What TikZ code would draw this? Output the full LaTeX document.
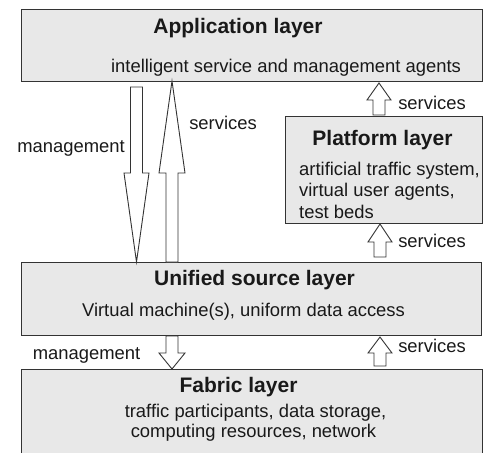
\documentclass[tikz,border=0pt]{standalone}
\usepackage{fontspec}
\setmainfont{Liberation Sans}
\begin{document}
\begin{tikzpicture}[x=1pt,y=-1pt,
  layerbox/.style={draw=black!80, fill=black!9, line width=0.9pt},
  blockarrow/.style={draw=black!80, fill=white, line width=0.9pt, line join=miter},
  title/.style={font=\fontsize{21}{24}\selectfont\bfseries, text=black!90, inner sep=0pt},
  body/.style={font=\fontsize{18.4}{20.5}\selectfont, text=black!90, inner sep=0pt}]
\useasboundingbox (0,0) rectangle (483,453);
\clip (0,0) rectangle (483,453);
% layer boxes
\draw[layerbox] (21,9) rectangle (482,81);
\draw[layerbox] (285,116) rectangle (482,223);
\draw[layerbox] (21,262) rectangle (481,335);
\draw[layerbox] (21,369) rectangle (482,470);
% big management arrow (down)
\draw[blockarrow] (130.5,87) -- (142.5,87) -- (142.5,173) -- (149,173) -- (136.5,262) -- (124,173) -- (130.5,173) -- cycle;
% big services arrow (up)
\draw[blockarrow] (166,262) -- (178,262) -- (178,173) -- (185,173) -- (172,81) -- (159,173) -- (166,173) -- cycle;
% small services arrow platform -> application
\draw[blockarrow] (373,115) -- (385,115) -- (385,100) -- (391,100) -- (379,83) -- (367,100) -- (373,100) -- cycle;
% small services arrow unified -> platform
\draw[blockarrow] (374,257) -- (386,257) -- (386,242) -- (392,242) -- (380,224) -- (368,242) -- (374,242) -- cycle;
% small management arrow unified -> fabric
\draw[blockarrow] (166,336) -- (178,336) -- (178,353) -- (185,353) -- (172,369) -- (159,353) -- (166,353) -- cycle;
% small services arrow fabric -> unified
\draw[blockarrow] (374,366) -- (386,366) -- (386,353) -- (392,353) -- (380,337) -- (368,353) -- (374,353) -- cycle;
% texts
\node[title] (appT) at (238,28) {Application layer};
\node[body] (appB) at (286,68) {intelligent service and management agents};
\node[body] (svc1) at (223,123) {services};
\node[body] (mgt1) at (71,148) {management};
\node[body] (svc2) at (432,103) {services};
\node[title] (platT) at (382.5,140) {Platform layer};
\node[body, anchor=west] (platB1) at (299,171) {artificial traffic system,};
\node[body, anchor=west] (platB2) at (299,192) {virtual user agents,};
\node[body, anchor=west] (platB3) at (299,212) {test beds};
\node[body] (svc3) at (432,241) {services};
\node[title] (unifT) at (254.5,280) {Unified source layer};
\node[body] (unifB) at (243.5,312) {Virtual machine(s), uniform data access};
\node[body] (svc4) at (432,346) {services};
\node[body] (mgt2) at (86.5,355) {management};
\node[title] (fabT) at (238.5,387) {Fabric layer};
\node[body] (fabB1) at (255.5,413) {traffic participants, data storage,};
\node[body] (fabB2) at (253.5,433) {computing resources, network};
\end{tikzpicture}
\end{document}
